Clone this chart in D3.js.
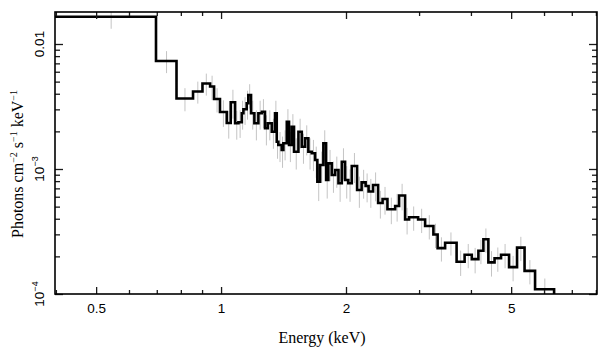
<!DOCTYPE html>
<html><head><meta charset="utf-8">
<script src="https://cdn.jsdelivr.net/npm/d3@7"></script>
<style>body{margin:0;background:#fff}svg{display:block}</style>
</head><body><svg id="c" width="608" height="357"></svg>
<script>
// Bin edges (keV), n+1 values
const binEdges = [0.39, 0.697, 0.781, 0.856, 0.902, 0.941, 0.962, 0.994, 1.032, 1.055,
  1.081, 1.101, 1.122, 1.132, 1.153, 1.163, 1.181, 1.203, 1.230, 1.254,
  1.276, 1.296, 1.325, 1.349, 1.362, 1.374, 1.400, 1.413, 1.440, 1.458,
  1.480, 1.499, 1.536, 1.565, 1.594, 1.623, 1.654, 1.685, 1.706, 1.732,
  1.764, 1.791, 1.813, 1.848, 1.883, 1.918, 1.954, 1.990, 2.026, 2.065,
  2.127, 2.181, 2.230, 2.267, 2.324, 2.390, 2.450, 2.517, 2.627, 2.685,
  2.776, 2.838, 2.984, 3.102, 3.248, 3.325, 3.466, 3.694, 3.862, 4.019,
  4.169, 4.286, 4.406, 4.560, 4.727, 4.942, 5.166, 5.386, 5.709, 6.345];
// Flux per bin (photons cm^-2 s^-1 keV^-1)
const flux = [0.01654, 0.00731, 0.003664, 0.004169, 0.004831, 0.004571, 0.003631, 0.002858, 0.002333,
  0.003417, 0.002320, 0.002363, 0.002790, 0.003003, 0.003354, 0.003908, 0.002790, 0.002320, 0.002790,
  0.002873, 0.002116, 0.002320, 0.001988, 0.002790, 0.001654, 0.001556, 0.001419, 0.001606, 0.002389,
  0.001556, 0.002180, 0.001375, 0.001988, 0.001508, 0.001760, 0.001375, 0.001335, 0.001180, 0.000791,
  0.001076, 0.001606, 0.000817, 0.001110, 0.000895, 0.000982, 0.000769, 0.001144, 0.000817, 0.000769,
  0.001057, 0.000679, 0.000782, 0.000731, 0.000661, 0.000745, 0.000535, 0.000575, 0.000476, 0.000506,
  0.000614, 0.000394, 0.000411, 0.000394, 0.000350, 0.000299, 0.000233, 0.000257, 0.000181, 0.000206,
  0.000190, 0.000222, 0.000274, 0.000179, 0.000193, 0.000206, 0.000164, 0.000235, 0.000153, 0.000109];
// Relative 1-sigma error per bin
const errFrac = [0.20, 0.20, 0.21, 0.20, 0.20, 0.22, 0.22, 0.24, 0.25,
  0.26, 0.26, 0.25, 0.26, 0.25, 0.26, 0.22, 0.26, 0.27, 0.26,
  0.26, 0.27, 0.27, 0.27, 0.26, 0.27, 0.27, 0.28, 0.27, 0.26,
  0.27, 0.26, 0.28, 0.27, 0.27, 0.27, 0.28, 0.28, 0.28, 0.30,
  0.28, 0.27, 0.29, 0.28, 0.28, 0.28, 0.29, 0.28, 0.29, 0.29,
  0.27, 0.28, 0.26, 0.26, 0.26, 0.26, 0.25, 0.25, 0.24, 0.25,
  0.24, 0.24, 0.22, 0.22, 0.22, 0.22, 0.22, 0.21, 0.23, 0.22,
  0.23, 0.22, 0.22, 0.23, 0.22, 0.22, 0.23, 0.22, 0.22, 0.22];

const xMajorTicks = [0.5, 1, 2, 5];
const xTickLabels = ["0.5", "1", "2", "5"];
const xMinorTicks = [0.4, 0.6, 0.7, 0.8, 0.9, 3, 4, 6, 7, 8];
const yMajorTicks = [0.01, 0.001, 0.0001];
const yTickBase = ["0.01", "10", "10"];
const yTickExp = ["", "\u22123", "\u22124"];
const yMinorTicks = [2e-4,3e-4,4e-4,5e-4,6e-4,7e-4,8e-4,9e-4,2e-3,3e-3,4e-3,5e-3,6e-3,7e-3,8e-3,9e-3];

const L = 55, R = 597, T = 12, B = 294;
const svg = d3.select("#c");
const x = d3.scaleLog().domain([0.398, 8.05]).range([L, R]);
const y = d3.scaleLog().domain([1e-4, 0.01803]).range([B, T]);

svg.append("defs").append("clipPath").attr("id", "clip")
  .append("rect").attr("x", L).attr("y", T).attr("width", R - L).attr("height", B - T);

const plot = svg.append("g").attr("clip-path", "url(#clip)");

// error bars
const n = flux.length;
const bins = flux.map((f, i) => ({lo: binEdges[i], hi: binEdges[i + 1], f, e: errFrac[i]}));
plot.selectAll("line.err").data(bins).join("line")
  .attr("class", "err")
  .attr("x1", d => x((d.lo + d.hi) / 2)).attr("x2", d => x((d.lo + d.hi) / 2))
  .attr("y1", d => y(d.f * (1 + d.e))).attr("y2", d => y(d.f * (1 - d.e)))
  .attr("stroke", "#c4c4c4").attr("stroke-width", 1);

// step line
const pts = bins.map(d => [d.lo, d.f]);
pts.push([binEdges[n], flux[n - 1]]);
pts.push([binEdges[n], 5e-5]);
plot.append("path").datum(pts)
  .attr("d", d3.line().x(d => x(d[0])).y(d => y(d[1])).curve(d3.curveStepAfter))
  .attr("fill", "none").attr("stroke", "#000").attr("stroke-width", 2.6)
  .attr("stroke-linejoin", "miter");

// axes ticks
function styleAxis(g) {
  g.select(".domain").remove();
  g.selectAll(".tick line").attr("stroke", "#1a1a1a").attr("stroke-width", 1.3);
}
const fmtX = d => xTickLabels[xMajorTicks.indexOf(d)];
svg.append("g").attr("transform", `translate(0,${B})`)
  .call(d3.axisBottom(x).tickValues(xMajorTicks).tickSize(-7).tickPadding(9).tickFormat(fmtX))
  .call(styleAxis)
  .call(g => g.selectAll("text").attr("font-family", "Liberation Sans, Arial, sans-serif")
    .attr("font-size", 13.5).attr("fill", "#000"));
svg.append("g").attr("transform", `translate(0,${B})`)
  .call(d3.axisBottom(x).tickValues(xMinorTicks).tickSize(-4).tickFormat(""))
  .call(styleAxis);
svg.append("g").attr("transform", `translate(0,${T})`)
  .call(d3.axisTop(x).tickValues(xMajorTicks).tickSize(-7).tickFormat(""))
  .call(styleAxis);
svg.append("g").attr("transform", `translate(0,${T})`)
  .call(d3.axisTop(x).tickValues(xMinorTicks).tickSize(-4).tickFormat(""))
  .call(styleAxis);
svg.append("g").attr("transform", `translate(${L},0)`)
  .call(d3.axisLeft(y).tickValues(yMajorTicks).tickSize(-8).tickFormat(""))
  .call(styleAxis);
svg.append("g").attr("transform", `translate(${L},0)`)
  .call(d3.axisLeft(y).tickValues(yMinorTicks).tickSize(-5).tickFormat(""))
  .call(styleAxis);
svg.append("g").attr("transform", `translate(${R},0)`)
  .call(d3.axisRight(y).tickValues(yMajorTicks).tickSize(-8).tickFormat(""))
  .call(styleAxis);
svg.append("g").attr("transform", `translate(${R},0)`)
  .call(d3.axisRight(y).tickValues(yMinorTicks).tickSize(-5).tickFormat(""))
  .call(styleAxis);

// frame
svg.append("rect").attr("x", L).attr("y", T).attr("width", R - L).attr("height", B - T)
  .attr("fill", "none").attr("stroke", "#000").attr("stroke-width", 1.6);

// y tick labels (rotated)
yMajorTicks.forEach((v, i) => {
  const t = svg.append("text")
    .attr("transform", `translate(44,${y(v)}) rotate(-90)`)
    .attr("text-anchor", "middle")
    .attr("font-family", "Liberation Sans, Arial, sans-serif")
    .attr("font-size", 13.5).attr("fill", "#000");
  t.append("tspan").text(yTickBase[i]);
  if (yTickExp[i]) t.append("tspan").attr("font-size", 9).attr("dy", -6).text(yTickExp[i]);
});

// axis titles
svg.append("text").attr("x", 322).attr("y", 343).attr("text-anchor", "middle")
  .attr("font-family", "Liberation Serif, Times New Roman, serif").attr("font-size", 16)
  .attr("fill", "#000").text("Energy (keV)");

const yt = svg.append("text").attr("transform", "translate(23,164) rotate(-90)")
  .attr("text-anchor", "middle")
  .attr("font-family", "Liberation Serif, Times New Roman, serif").attr("font-size", 16)
  .attr("fill", "#000");
const titleParts = [["Photons cm", ""], ["\u22122", "sup"], [" s", ""], ["\u22121", "sup"], [" keV", ""], ["\u22121", "sup"]];
titleParts.forEach(([s, k]) => {
  if (k === "sup") yt.append("tspan").attr("font-size", 10).attr("dy", -6).text(s);
  else yt.append("tspan").attr("dy", 6).text(s);
});
yt.select("tspan").attr("dy", 0);
</script>
</body></html>
